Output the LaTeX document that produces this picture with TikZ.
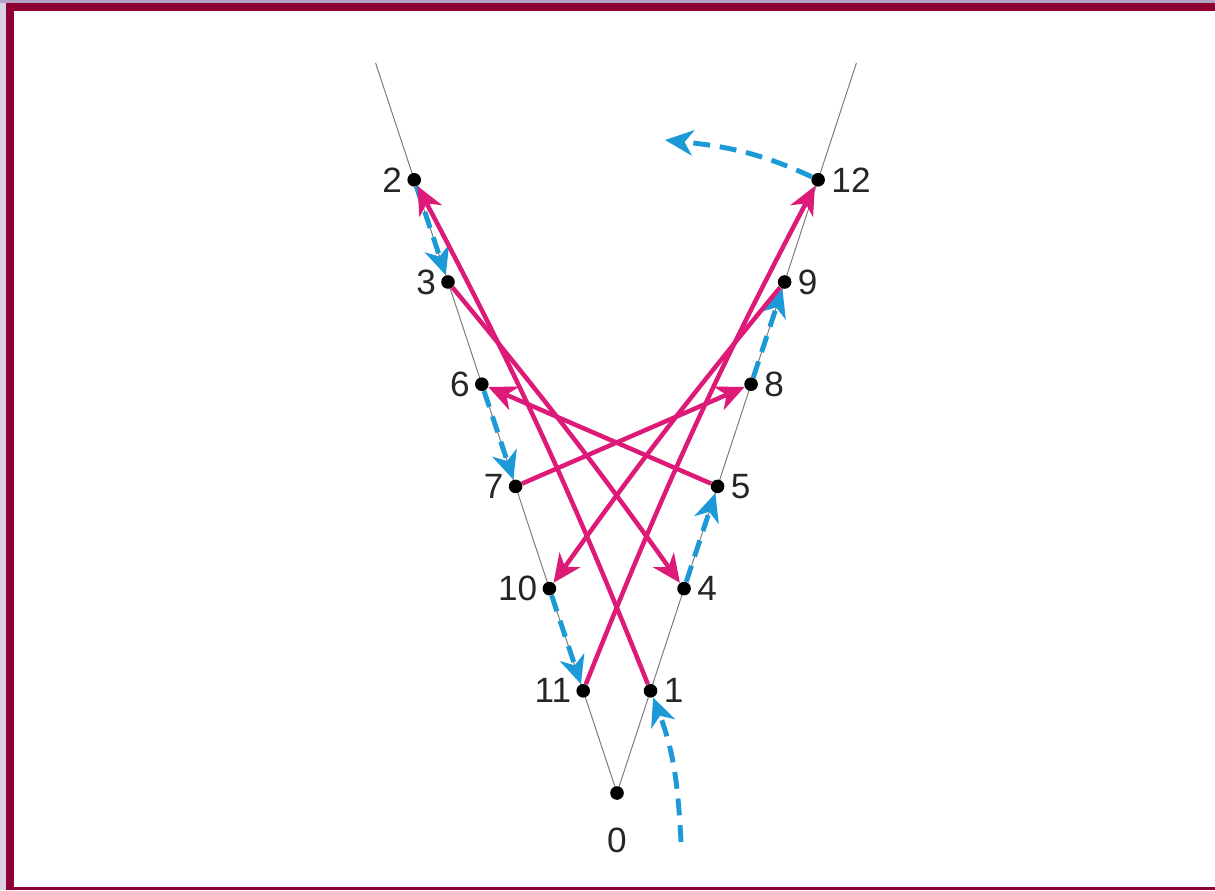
\documentclass[tikz,border=0pt]{standalone}
\usepackage{fontspec}
\setmainfont{Liberation Sans}
\usepackage{tikz}
\usetikzlibrary{arrows.meta, positioning, calc}
\definecolor{vframe}{HTML}{8E0033}
\definecolor{vlav}{HTML}{DCD0E3}
\definecolor{vlavtop}{HTML}{B4A4C6}
\definecolor{vpink}{HTML}{DE1A78}
\definecolor{vblue}{HTML}{1C9AD8}
\definecolor{vgray}{HTML}{7C7C7C}
\tikzset{
  pt/.style={circle, fill=black, inner sep=0pt, minimum size=0.34cm},
  lbl/.style={font=\fontsize{25}{29}\selectfont, text=black!85, inner sep=0pt},
  ray/.style={vgray, line width=0.7pt},
  jump/.style={-{Stealth[length=20pt, width=18pt, inset=6pt]}, vpink, line width=3.2pt},
  walk/.style={-{Stealth[length=20pt, width=18pt, inset=6pt]}, vblue, line width=3.5pt,
               dash pattern=on 12pt off 7pt},
}

\begin{document}
\begin{tikzpicture}

  %% Frame
  \useasboundingbox (0,0) rectangle (30.375,22.25);
  \fill[white] (0,0) rectangle (30.375,22.25);
  \fill[vlav] (0,0) rectangle (0.15,22.25);
  \fill[vlavtop] (0,22.175) rectangle (30.375,22.25);
  \fill[vframe] (0.15,21.975) rectangle (30.375,22.175);
  \fill[vframe] (0.15,0) rectangle (0.35,22.175);
  \fill[vframe] (0.15,0) rectangle (30.375,0.075);

  %% The two rays
  \coordinate (base) at (15.425,2.425);
  \coordinate (topL) at (9.39,20.675);
  \coordinate (topR) at (21.41,20.675);
  \draw[ray] (base) -- (topL);
  \draw[ray] (base) -- (topR);

  %% Points
  \node[pt, label={[lbl, label distance=0.68cm]below:0}] (n0) at (base) {};
  % left ray / right ray, one level each
  \foreach \k/\l/\r in {1/11/1, 2/10/4, 3/7/5, 4/6/8, 5/3/9, 6/2/12}{
    \node[pt, label={[lbl, label distance=0.12cm]left:\l}] (n\l) at (15.425-0.845*\k, 2.425+2.555*\k) {};
    \node[pt, label={[lbl, label distance=0.15cm]right:\r}] (n\r) at (15.425+0.838*\k, 2.425+2.555*\k) {};
  }

  %% Steps along a ray
  \coordinate (enter) at (17.025,1.2);
  \coordinate (leave) at (16.625,18.75);
  \draw[walk] (enter) to[out=93, in=-69] (n1);
  \foreach \a/\b in {2/3, 4/5, 6/7, 8/9, 10/11}{
    \draw[walk] (n\a) -- (n\b);
  }
  \draw[walk] (n12) to[out=155, in=-6] (leave);

  %% Jumps across
  \draw[jump] (n1) to[bend right=3] (n2);
  \draw[jump] (n3) to[bend left=2] (n4);
  \draw[jump] (n5) -- (n6);
  \draw[jump] (n7) -- (n8);
  \draw[jump] (n9) to[bend right=2] (n10);
  \draw[jump] (n11) to[bend left=3] (n12);

\end{tikzpicture}
\end{document}
